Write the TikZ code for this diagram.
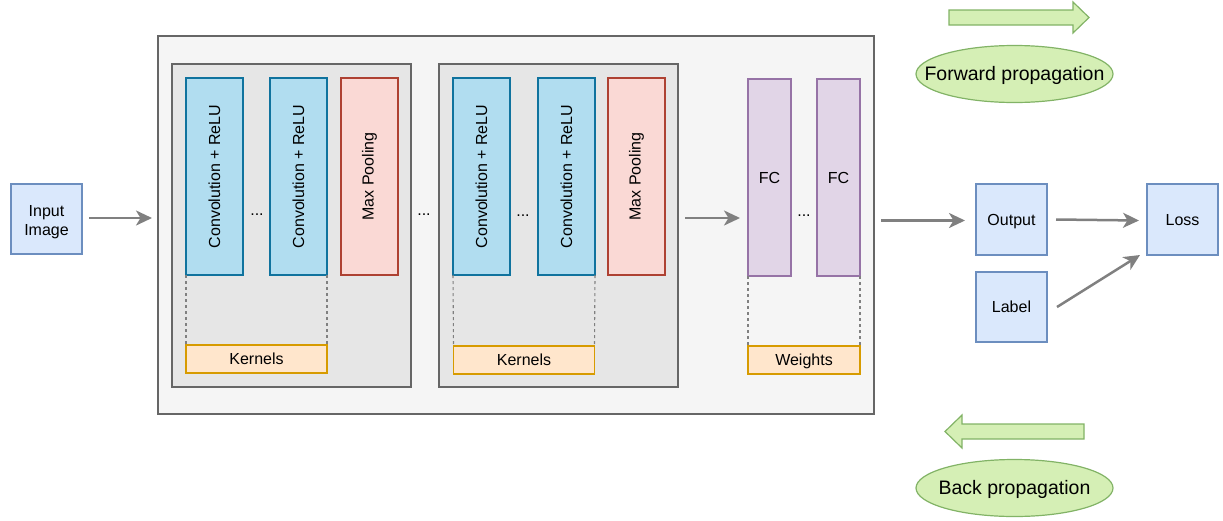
\documentclass[tikz,border=0pt]{standalone}
\usepackage{fontspec}
\setmainfont{Liberation Sans}
\usetikzlibrary{arrows.meta,calc,shapes.geometric}

\definecolor{bluefill}{HTML}{DAE8FC}
\definecolor{bluestroke}{HTML}{6C8EBF}
\definecolor{convfill}{HTML}{B1DDF0}
\definecolor{convstroke}{HTML}{10739E}
\definecolor{poolfill}{HTML}{FAD9D5}
\definecolor{poolstroke}{HTML}{AE4132}
\definecolor{fcfill}{HTML}{E1D5E7}
\definecolor{fcstroke}{HTML}{9673A6}
\definecolor{kernfill}{HTML}{FFE6CC}
\definecolor{kernstroke}{HTML}{D79B00}
\definecolor{outerfill}{HTML}{F5F5F5}
\definecolor{groupfill}{HTML}{E6E6E6}
\definecolor{framestroke}{HTML}{666666}
\definecolor{arrowgray}{HTML}{808080}
\definecolor{greenfill}{HTML}{D5EFB5}
\definecolor{greenstroke}{HTML}{82B366}

\tikzset{
  base/.style={draw, line width=1.2pt, inner sep=0pt, outer sep=0pt, rectangle,
    font=\fontsize{16}{19}\selectfont, align=center},
  oneline/.style={text height=14.5pt, text depth=3.4pt},
  iobox/.style={base, fill=bluefill, draw=bluestroke, minimum width=71, minimum height=71},
  outerbox/.style={base, fill=outerfill, draw=framestroke, minimum width=716, minimum height=378},
  groupbox/.style={base, fill=groupfill, draw=framestroke, minimum width=239, minimum height=323},
  convbox/.style={base, fill=convfill, draw=convstroke, minimum width=57, minimum height=197},
  poolbox/.style={base, fill=poolfill, draw=poolstroke, minimum width=57, minimum height=197},
  fcbox/.style={base, oneline, fill=fcfill, draw=fcstroke, minimum width=43, minimum height=197},
  kernbox/.style={base, oneline, fill=kernfill, draw=kernstroke, line width=1.5pt, minimum height=28},
  vlabel/.style={label={[rotate=90, font=\fontsize{16}{19}\selectfont]center:#1}},
  dotsnode/.style={inner sep=0pt, font=\fontsize{16}{19}\selectfont},
  guide/.style={draw=arrowgray, line width=1.1pt, dash pattern=on 3pt off 3pt},
  flow/.style={draw=arrowgray, line width=2.5pt,
    -{Stealth[length=16pt, width=15pt, inset=4.5pt]}},
  bigarrow/.style={draw=greenstroke, fill=greenfill, line width=1.2pt, line join=miter},
  propnode/.style={ellipse, draw=greenstroke, fill=greenfill, line width=1.2pt,
    minimum width=197, minimum height=57, inner sep=0pt,
    label={[font=\fontsize{19.5}{23}\selectfont, text height=17.7pt, text depth=4.1pt]center:#1}},
}

\begin{document}
\begin{tikzpicture}[x=1pt, y=-1pt]
  \useasboundingbox (0,0) rectangle (1223,520);

  % input
  \node[iobox, minimum height=70,
    label={[yshift=-3pt, align=center, font=\fontsize{16}{19}\selectfont]center:Input\\Image}]
    (inp) at (46.5,219) {};

  % feature extractor and classifier frame
  \node[outerbox] (outer) at (516,225) {};

  % first convolution group
  \node[groupbox] (g1) at (291.5,225.5) {};
  \node[convbox, vlabel={Convolution + ReLU}] (c1) at (214.5,176.5) {};
  \node[convbox, vlabel={Convolution + ReLU}] (c2) at (298.5,176.5) {};
  \node[poolbox, vlabel={Max Pooling}] (p1) at (369.5,176.5) {};
  \node[kernbox, minimum width=141] (k1) at (256.5,359) {Kernels};
  \node[dotsnode] (d1) at (257,215) {...};
  \draw[guide] (c1.south west) -- (k1.north west);
  \draw[guide] (c2.south east) -- (k1.north east);

  \node[dotsnode] (d2) at (424,215) {...};

  % second convolution group
  \node[groupbox] (g2) at (558.5,225.5) {};
  \node[convbox, vlabel={Convolution + ReLU}] (c3) at (481.5,176.5) {};
  \node[convbox, vlabel={Convolution + ReLU}] (c4) at (566.5,176.5) {};
  \node[poolbox, vlabel={Max Pooling}] (p2) at (636.5,176.5) {};
  \node[kernbox, minimum width=141] (k2) at (524,360) {Kernels};
  \node[dotsnode] (d3) at (523,216) {...};
  \draw[guide] (c3.south west) -- (k2.north west);
  \draw[guide] (c4.south east) -- (k2.north east);

  % fully connected layers
  \node[fcbox] (fc1) at (769.5,177.5) {FC};
  \node[fcbox] (fc2) at (838.5,177.5) {FC};
  \node[kernbox, minimum width=112] (wt) at (804,360) {Weights};
  \node[dotsnode] (d4) at (804,216) {...};
  \draw[guide] (fc1.south west) -- (wt.north west);
  \draw[guide] (fc2.south east) -- (wt.north east);

  % output side
  \node[iobox, oneline] (out) at (1011.5,219.5) {Output};
  \node[iobox, oneline, minimum height=70] (lab) at (1011.5,307) {Label};
  \node[iobox, oneline] (loss) at (1182.5,219.5) {Loss};

  % data flow
  \draw[flow] ($(inp.east)+(7,-1)$) -- ($(outer.west |- inp.east)+(-6,-1)$);
  \draw[flow] ($(g2.east |- inp.east)+(7,-1)$) -- ($(fc1.west |- inp.east)+(-8,-1)$);
  \draw[flow] ($(outer.east |- out.west)+(7,1)$) -- ($(out.west)+(-11,1)$);
  \draw[flow] ($(out.east)+(9,0)$) -- ($(loss.west)+(-8,1)$);
  \draw[flow] ($(lab.east)+(10,0)$) -- ($(loss.south west)+(-7,0)$);

  % propagation direction legend
  \draw[bigarrow] (949,10) -- (1073,10) -- (1073,2) -- (1089,17.5) -- (1073,33)
    -- (1073,25) -- (949,25) -- cycle;
  \node[propnode={Forward propagation}] (fwd) at (1014.5,74) {};
  \draw[bigarrow] (1084,424) -- (962,424) -- (962,415) -- (945,431.5) -- (962,448)
    -- (962,439) -- (1084,439) -- cycle;
  \node[propnode={Back propagation}] (bwd) at (1014.5,488) {};
\end{tikzpicture}
\end{document}
